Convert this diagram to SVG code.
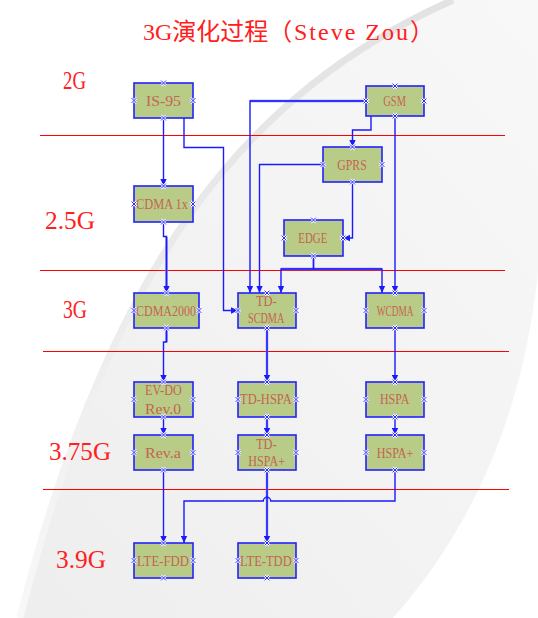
<svg xmlns="http://www.w3.org/2000/svg" width="538" height="618" viewBox="0 0 538 618">
<style>
.bg{fill:#ffffff}
.node rect{fill:#b8cc88;stroke:#2222ff;stroke-width:1.6}
.node text{font-family:"Liberation Serif","DejaVu Serif",serif;font-size:15px;fill:#c46450}
.lvl{font-family:"Liberation Serif","DejaVu Serif",serif;font-size:25px;fill:#ff2020}
.title{font-family:"Liberation Serif","Noto Sans CJK SC",serif;font-size:24px;fill:#ff2020}
.sep{stroke:#ff0000;stroke-width:1;shape-rendering:crispEdges}
.c{fill:none;stroke:#1a1aff;stroke-width:1.4}
.lt{fill:none;stroke:#7c7cff;stroke-width:2.4}
.ca{marker-end:url(#arr)}
</style>
<defs>
<marker id="arr" viewBox="0 0 10 10" refX="10" refY="5" markerWidth="7" markerHeight="7" markerUnits="userSpaceOnUse" orient="auto">
<path d="M0,0.5 L10,5 L0,9.5 z" fill="#1a1aff"/>
</marker>
<g id="cp">
<path d="M-2.6,-2.6L2.6,2.6M-2.6,2.6L2.6,-2.6" stroke="#ffffff" stroke-width="2.2"/>
<path d="M-2.4,-2.4L2.4,2.4M-2.4,2.4L2.4,-2.4" stroke="#1010ff" stroke-width="0.9"/>
</g>
<linearGradient id="gg" x1="1" y1="0" x2="0" y2="1">
<stop offset="0" stop-color="#f8f8f8"/>
<stop offset="1" stop-color="#eeeeee"/>
</linearGradient>
<linearGradient id="sg" x1="0" y1="0" x2="0" y2="1">
<stop offset="0" stop-color="#e2e2e2"/>
<stop offset="0.5" stop-color="#ececec"/>
<stop offset="1" stop-color="#f8f8f8"/>
</linearGradient>
</defs>

<g id="background">
<rect class="bg" x="0" y="0" width="538" height="618"/>
<path d="M453,0 C250,90 110,260 20,618 L393,618 C480,520 525,400 538,272 L538,0 Z" fill="url(#gg)"/>
<path d="M453,0 C250,90 110,260 20,618" fill="none" stroke="url(#sg)" stroke-width="7"/>
</g>

<text class="title" y="40"><tspan x="143">3G演化过程（</tspan><tspan x="294" letter-spacing="2">Steve Zou</tspan><tspan x="410">）</tspan></text>

<g id="levels">
<text class="lvl" x="63" y="89" textLength="23" lengthAdjust="spacingAndGlyphs">2G</text>
<text class="lvl" x="45" y="229" textLength="50" lengthAdjust="spacingAndGlyphs">2.5G</text>
<text class="lvl" x="63" y="318" textLength="24" lengthAdjust="spacingAndGlyphs">3G</text>
<text class="lvl" x="49" y="460" textLength="62" lengthAdjust="spacingAndGlyphs">3.75G</text>
<text class="lvl" x="56" y="568" textLength="50" lengthAdjust="spacingAndGlyphs">3.9G</text>
</g>

<g id="separators">
<line class="sep" x1="40" y1="135" x2="505" y2="135"/>
<line class="sep" x1="40" y1="270" x2="505" y2="270"/>
<line class="sep" x1="43" y1="351" x2="509" y2="351"/>
<line class="sep" x1="43" y1="489" x2="509" y2="489"/>
</g>

<g id="connectors">
<path class="c ca" d="M163.5,118 V186"/>
<path class="c ca" d="M184,118 V147.5 H223.5 V310.5 H238"/>
<path class="lt" d="M366,101 H250"/>
<path class="c ca" d="M366,101 H250 V293"/>
<path class="c ca" d="M371,116 V130 H352.5 V147"/>
<path class="c ca" d="M323,164.5 H259.5 V293"/>
<path class="c ca" d="M352.5,182 V238 H343"/>
<path class="lt" d="M281,269 H382"/>
<path class="c ca" d="M313.5,256 V269 H281 V293"/>
<path class="c ca" d="M313.5,256 V269 H382 V293"/>
<path class="c ca" d="M395,116 V293"/>
<path class="lt" d="M166.5,237 V288"/>
<path class="c ca" d="M163.5,222 V236.5 H166.5 V293"/>
<path class="lt" d="M166.5,328 V342"/>
<path class="c ca" d="M166.5,328 V342 H163.5 V382"/>
<path class="lt" d="M267,328 V377"/>
<path class="c ca" d="M267,328 V382"/>
<path class="c ca" d="M395,328 V382"/>
<path class="c ca" d="M163.5,417 V435"/>
<path class="lt" d="M267,417 V430"/>
<path class="c ca" d="M267,417 V435"/>
<path class="c ca" d="M395,417 V435"/>
<path class="c ca" d="M163.5,470 V543"/>
<path class="lt" d="M267,470 V538"/>
<path class="c ca" d="M267,470 V543"/>
<path class="c ca" d="M395,470 V501 H270.7 A3.7,3.7 0 0 0 263.3,501 H184 V543"/>
</g>

<g id="n-is95" class="node">
<rect x="134" y="83" width="59" height="35"/>
<text x="146" y="105.5" textLength="35" lengthAdjust="spacingAndGlyphs">IS-95</text>
<use href="#cp" x="163.5" y="83"/><use href="#cp" x="163.5" y="118"/><use href="#cp" x="134" y="100.5"/><use href="#cp" x="193" y="100.5"/>
</g>
<g id="n-gsm" class="node">
<rect x="366" y="86" width="58" height="30"/>
<text x="383.3" y="106" textLength="22.7" lengthAdjust="spacingAndGlyphs">GSM</text>
<use href="#cp" x="395" y="86"/><use href="#cp" x="395" y="116"/><use href="#cp" x="366" y="101"/><use href="#cp" x="424" y="101"/>
</g>
<g id="n-gprs" class="node">
<rect x="323" y="147" width="59" height="35"/>
<text x="337.3" y="169.5" textLength="29.4" lengthAdjust="spacingAndGlyphs">GPRS</text>
<use href="#cp" x="352.5" y="147"/><use href="#cp" x="352.5" y="182"/><use href="#cp" x="323" y="164.5"/><use href="#cp" x="382" y="164.5"/>
</g>
<g id="n-cdma1x" class="node">
<rect x="134" y="186" width="59" height="36"/>
<text x="136" y="209" textLength="52" lengthAdjust="spacingAndGlyphs">CDMA 1x</text>
<use href="#cp" x="163.5" y="186"/><use href="#cp" x="163.5" y="222"/><use href="#cp" x="134" y="204"/><use href="#cp" x="193" y="204"/>
</g>
<g id="n-edge" class="node">
<rect x="284" y="220" width="59" height="36"/>
<text x="298.3" y="243" textLength="29" lengthAdjust="spacingAndGlyphs">EDGE</text>
<use href="#cp" x="313.5" y="220"/><use href="#cp" x="313.5" y="256"/><use href="#cp" x="284" y="238"/><use href="#cp" x="343" y="238"/>
</g>
<g id="n-cdma2000" class="node">
<rect x="134" y="293" width="65" height="35"/>
<text x="136" y="315.5" textLength="60" lengthAdjust="spacingAndGlyphs">CDMA2000</text>
<use href="#cp" x="166.5" y="293"/><use href="#cp" x="166.5" y="328"/><use href="#cp" x="134" y="310.5"/><use href="#cp" x="199" y="310.5"/>
</g>
<g id="n-tdscdma" class="node">
<rect x="238" y="293" width="58" height="35"/>
<text x="256" y="305.5" textLength="20.7" lengthAdjust="spacingAndGlyphs">TD-</text>
<text x="248" y="323" textLength="36.3" lengthAdjust="spacingAndGlyphs">SCDMA</text>
<use href="#cp" x="267" y="293"/><use href="#cp" x="267" y="328"/><use href="#cp" x="238" y="310.5"/><use href="#cp" x="296" y="310.5"/>
</g>
<g id="n-wcdma" class="node">
<rect x="366" y="293" width="58" height="35"/>
<text x="376.7" y="315.5" textLength="36.7" lengthAdjust="spacingAndGlyphs">WCDMA</text>
<use href="#cp" x="395" y="293"/><use href="#cp" x="395" y="328"/><use href="#cp" x="366" y="310.5"/><use href="#cp" x="424" y="310.5"/>
</g>
<g id="n-evdo" class="node">
<rect x="134" y="382" width="59" height="35"/>
<text x="145" y="395" textLength="36.7" lengthAdjust="spacingAndGlyphs">EV-DO</text>
<text x="145" y="413.5" textLength="36" lengthAdjust="spacingAndGlyphs">Rev.0</text>
<use href="#cp" x="163.5" y="382"/><use href="#cp" x="163.5" y="417"/><use href="#cp" x="134" y="399.5"/><use href="#cp" x="193" y="399.5"/>
</g>
<g id="n-reva" class="node">
<rect x="134" y="435" width="59" height="35"/>
<text x="145" y="458" textLength="36" lengthAdjust="spacingAndGlyphs">Rev.a</text>
<use href="#cp" x="163.5" y="435"/><use href="#cp" x="163.5" y="470"/><use href="#cp" x="134" y="452.5"/><use href="#cp" x="193" y="452.5"/>
</g>
<g id="n-tdhspa" class="node">
<rect x="238" y="382" width="58" height="35"/>
<text x="240" y="404" textLength="51.7" lengthAdjust="spacingAndGlyphs">TD-HSPA</text>
<use href="#cp" x="267" y="382"/><use href="#cp" x="267" y="417"/><use href="#cp" x="238" y="399.5"/><use href="#cp" x="296" y="399.5"/>
</g>
<g id="n-tdhspaplus" class="node">
<rect x="238" y="435" width="58" height="35"/>
<text x="256" y="448.5" textLength="20.7" lengthAdjust="spacingAndGlyphs">TD-</text>
<text x="248.3" y="465.5" textLength="36.7" lengthAdjust="spacingAndGlyphs">HSPA+</text>
<use href="#cp" x="267" y="435"/><use href="#cp" x="267" y="470"/><use href="#cp" x="238" y="452.5"/><use href="#cp" x="296" y="452.5"/>
</g>
<g id="n-hspa" class="node">
<rect x="366" y="382" width="58" height="35"/>
<text x="380" y="404" textLength="29.3" lengthAdjust="spacingAndGlyphs">HSPA</text>
<use href="#cp" x="395" y="382"/><use href="#cp" x="395" y="417"/><use href="#cp" x="366" y="399.5"/><use href="#cp" x="424" y="399.5"/>
</g>
<g id="n-hspaplus" class="node">
<rect x="366" y="435" width="58" height="35"/>
<text x="376.7" y="458" textLength="36.7" lengthAdjust="spacingAndGlyphs">HSPA+</text>
<use href="#cp" x="395" y="435"/><use href="#cp" x="395" y="470"/><use href="#cp" x="366" y="452.5"/><use href="#cp" x="424" y="452.5"/>
</g>
<g id="n-ltefdd" class="node">
<rect x="134" y="543" width="59" height="35"/>
<text x="137" y="565.5" textLength="52" lengthAdjust="spacingAndGlyphs">LTE-FDD</text>
<use href="#cp" x="163.5" y="543"/><use href="#cp" x="163.5" y="578"/><use href="#cp" x="134" y="560.5"/><use href="#cp" x="193" y="560.5"/>
</g>
<g id="n-ltetdd" class="node">
<rect x="238" y="543" width="58" height="35"/>
<text x="240" y="565.5" textLength="51.7" lengthAdjust="spacingAndGlyphs">LTE-TDD</text>
<use href="#cp" x="267" y="543"/><use href="#cp" x="267" y="578"/><use href="#cp" x="238" y="560.5"/><use href="#cp" x="296" y="560.5"/>
</g>
</svg>
